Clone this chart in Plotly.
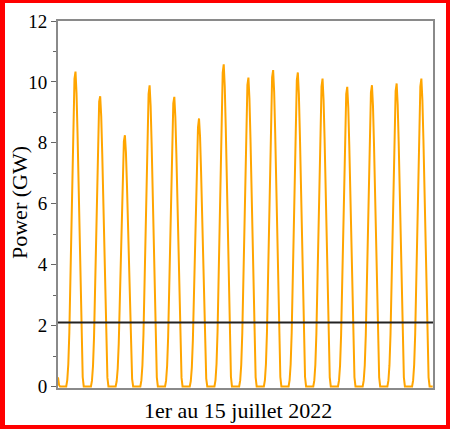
import pandas as pd
import plotly.graph_objects as go

# Hourly solar output (GW), evening of 30 June then 1-15 July 2022, hours 00..23
jun30_evening = [0.30, 0.05, 0.0]  # 21:00, 22:00, 23:00
jul01 = [0, 0, 0, 0, 0, 0, 0.21, 0.72, 1.76, 3.31, 5.17, 7.13, 8.79, 10.10, 10.34, 9.62, 8.27, 6.51, 4.55, 2.59, 1.03, 0.31, 0, 0]
jul02 = [0, 0, 0, 0, 0, 0, 0.19, 0.67, 1.62, 3.05, 4.77, 6.58, 8.10, 9.35, 9.53, 8.86, 7.62, 6.00, 4.19, 2.38, 0.95, 0.29, 0, 0]
jul03 = [0, 0, 0, 0, 0, 0, 0.17, 0.58, 1.40, 2.64, 4.13, 5.69, 7.01, 8.05, 8.25, 7.67, 6.60, 5.20, 3.63, 2.06, 0.83, 0.25, 0, 0]
jul04 = [0, 0, 0, 0, 0, 0, 0.20, 0.69, 1.68, 3.16, 4.95, 6.82, 8.41, 9.60, 9.89, 9.20, 7.91, 6.23, 4.35, 2.47, 0.99, 0.30, 0, 0]
jul05 = [0, 0, 0, 0, 0, 0, 0.19, 0.67, 1.62, 3.04, 4.76, 6.56, 8.08, 9.30, 9.51, 8.84, 7.61, 5.99, 4.18, 2.38, 0.95, 0.29, 0, 0]
jul06 = [0, 0, 0, 0, 0, 0, 0.18, 0.62, 1.50, 2.82, 4.40, 6.07, 7.48, 8.50, 8.80, 8.20, 7.04, 5.54, 3.87, 2.20, 0.88, 0.26, 0, 0]
jul07 = [0, 0, 0, 0, 0, 0, 0.21, 0.74, 1.80, 3.39, 5.29, 7.30, 8.99, 10.30, 10.58, 9.84, 8.46, 6.67, 4.66, 2.65, 1.06, 0.32, 0, 0]
jul08 = [0, 0, 0, 0, 0, 0, 0.20, 0.71, 1.72, 3.24, 5.07, 7.00, 8.62, 9.90, 10.14, 9.43, 8.11, 6.39, 4.46, 2.54, 1.01, 0.30, 0, 0]
jul09 = [0, 0, 0, 0, 0, 0, 0.21, 0.73, 1.77, 3.32, 5.20, 7.17, 8.83, 10.15, 10.39, 9.66, 8.31, 6.55, 4.57, 2.60, 1.04, 0.31, 0, 0]
jul10 = [0, 0, 0, 0, 0, 0, 0.21, 0.72, 1.75, 3.30, 5.16, 7.11, 8.76, 10.05, 10.31, 9.59, 8.25, 6.50, 4.54, 2.58, 1.03, 0.31, 0, 0]
jul11 = [0, 0, 0, 0, 0, 0, 0.20, 0.71, 1.72, 3.24, 5.06, 6.98, 8.59, 9.85, 10.11, 9.40, 8.09, 6.37, 4.45, 2.53, 1.01, 0.30, 0, 0]
jul12 = [0, 0, 0, 0, 0, 0, 0.20, 0.69, 1.67, 3.15, 4.92, 6.79, 8.36, 9.60, 9.84, 9.15, 7.87, 6.20, 4.33, 2.46, 0.98, 0.30, 0, 0]
jul13 = [0, 0, 0, 0, 0, 0, 0.20, 0.69, 1.68, 3.16, 4.95, 6.82, 8.41, 9.65, 9.89, 9.20, 7.91, 6.23, 4.35, 2.47, 0.99, 0.30, 0, 0]
jul14 = [0, 0, 0, 0, 0, 0, 0.20, 0.70, 1.69, 3.18, 4.98, 6.87, 8.46, 9.70, 9.95, 9.25, 7.96, 6.27, 4.38, 2.49, 1.00, 0.30, 0, 0]
jul15 = [0, 0, 0, 0, 0, 0, 0.20, 0.71, 1.72, 3.24, 5.06, 6.98, 8.59, 9.85, 10.11, 9.40, 8.09, 6.37, 4.45, 2.53, 1.01, 0.30, 0, 0]
jul16_night = [0.0, 0.0]  # 00:00, 01:00

series_start = "2022-06-30 21:00"
view_end = "2022-07-16 01:18"
threshold_gw = 2.1
y_ticks = [0, 2, 4, 6, 8, 10, 12]
x_title = "1er au 15 juillet 2022"
y_title = "Power (GW)"

power = jun30_evening + jul01 + jul02 + jul03 + jul04 + jul05 + jul06 + jul07 + jul08 \
    + jul09 + jul10 + jul11 + jul12 + jul13 + jul14 + jul15 + jul16_night
times = pd.date_range(series_start, periods=len(power), freq="h")

W, H = 450, 429
ML, MR, MT, MB = 58, 17, 21, 41
pw, ph = W - ML - MR, H - MT - MB


def px_x(px):
    return (px - ML) / pw


def px_y(py):
    return (H - MB - py) / ph


fig = go.Figure()
fig.add_trace(go.Scatter(
    x=times, y=power, mode="lines",
    line=dict(color="#FFA500", width=2), hoverinfo="x+y", showlegend=False,
))

# Horizontal reference level
fig.add_shape(type="line", xref="paper", yref="y", x0=0, x1=1,
              y0=threshold_gw, y1=threshold_gw,
              line=dict(color="#222222", width=2))

# Red frame around the whole figure (four bands in paper units)
for x0, y0, x1, y1 in [(0, 0, W, 3), (0, 0, 5, H), (W - 4, 0, W, H), (0, H - 4, W, H)]:
    fig.add_shape(type="rect", xref="paper", yref="paper",
                  x0=px_x(x0), x1=px_x(x1), y0=px_y(y0), y1=px_y(y1),
                  fillcolor="#FF0000", line=dict(width=0), layer="above")

serif = "Liberation Serif, Times New Roman, serif"

# Axis titles placed as annotations
fig.add_annotation(text=x_title, xref="paper", yref="paper",
                   x=px_x(238), y=px_y(410), xanchor="center", yanchor="middle",
                   showarrow=False, font=dict(family=serif, size=22, color="black"))
fig.add_annotation(text=y_title, xref="paper", yref="paper", textangle=-90,
                   x=px_x(19), y=px_y(203), xanchor="center", yanchor="middle",
                   showarrow=False, font=dict(family=serif, size=22, color="black"))

fig.update_layout(
    width=W, height=H,
    margin=dict(l=ML, r=MR, t=MT, b=MB, autoexpand=False),
    paper_bgcolor="white", plot_bgcolor="white",
    font=dict(family=serif, size=19, color="black"),
    xaxis=dict(
        range=[series_start, view_end], showgrid=False, zeroline=False,
        showticklabels=False, ticks="",
        showline=True, linecolor="#8a8a8a", linewidth=2, mirror=True,
    ),
    yaxis=dict(
        range=[-0.05, 12], tickvals=y_ticks, showgrid=False, zeroline=False,
        ticks="outside", ticklen=5, tickwidth=1, tickcolor="#666666",
        minor=dict(dtick=1, tick0=1, ticks="outside", ticklen=3, tickcolor="#666666"),
        showline=True, linecolor="#8a8a8a", linewidth=2, mirror=True,
        tickfont=dict(family=serif, size=19),
    ),
)

fig.write_html("out.html")
